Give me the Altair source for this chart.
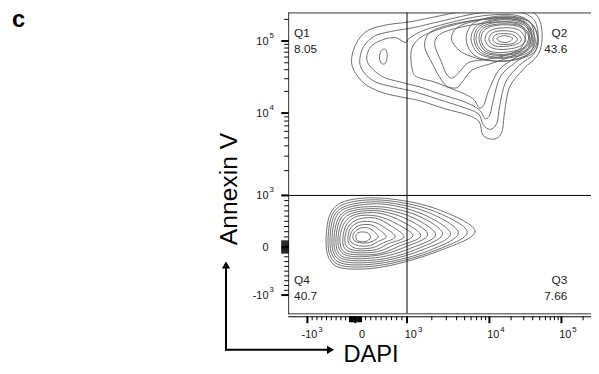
import math
import altair as alt
import pandas as pd

# ---------------- plot geometry (plot area only) ----------------
W, H = 307, 305

# ---------------- axis data (logicle display) ----------------
TICK_VALUES = [-1000, 0, 1000, 10000, 100000]
TICK_BASE = ["-10", "0", "10", "10", "10"]
TICK_EXP = ["3", "", "3", "4", "5"]
LIN_MINOR = [-900, -800, -700, -600, -500, -400, -300, -200,
             200, 300, 400, 500, 600, 700, 800, 900]
ZERO_BLOCK = [-120, -100, -80, -60, -40, -20, 0, 20, 40, 60, 80, 100, 120]
DEC_MINOR = [2000, 3000, 4000, 5000, 6000, 7000, 8000, 9000,
             20000, 30000, 40000, 50000, 60000, 70000, 80000, 90000, 200000]
GATE_VALUE = 1000

# ---------------- quadrant statistics ----------------
QUAD_NAMES = ["Q1", "Q2", "Q3", "Q4"]
QUAD_PCT = ["8.05", "43.6", "7.66", "40.7"]


def chan(v):
    """Logicle-like display channel of a fluorescence value."""
    if 0 <= v <= 1000:
        return 67.5 + v * 0.0525
    if v < 0:
        return 67.5 + v * 0.0485
    if v <= 10000:
        return 120 + math.log10(v / 1000) * 83.5
    return 203.5 + math.log10(v / 10000) * 73


# ---------------- contour lines (display channels: DAPI, Annexin V) ----------------
LOWER_CONTOURS = [
    [(38, 77), (43, 103), (60, 115), (98, 117), (148, 107), (189, 84), (153, 64), (98, 48), (56, 46), (41, 56)],
    [(40, 77), (45, 102), (62, 113), (98, 115), (145, 105), (181, 83), (148, 64), (98, 50), (58, 48), (43, 57)],
    [(42, 77), (47, 101), (64, 111), (98, 113), (141, 103), (172, 82), (142, 64), (98, 52), (60, 50), (45, 58)],
    [(44, 77), (49, 100), (65, 109), (98, 111), (136, 101), (164, 81), (136, 65), (98, 54), (62, 52), (47, 59)],
    [(46, 77), (51, 98), (66, 107), (98, 108), (132, 99), (156, 81), (131, 66), (98, 56), (64, 54), (49, 60)],
    [(48, 77), (53, 97), (67, 105), (96, 106), (127, 97), (149, 80), (125, 67), (96, 58), (65, 56), (51, 61)],
    [(50, 77), (55, 95), (68, 103), (94, 104), (122, 95), (141, 80), (119, 68), (94, 60), (66, 58), (53, 63)],
    [(52, 77), (57, 93), (69, 101), (92, 102), (116, 93), (134, 79), (113, 69), (92, 61), (67, 60), (55, 64)],
    [(55, 77), (59, 91), (70, 99), (90, 99), (110, 91), (126, 79), (107, 70), (90, 63), (68, 62), (57, 66)],
    [(57, 77), (61, 89), (71, 96), (88, 97), (104, 89), (117, 78), (101, 71), (88, 65), (69, 64), (59, 68)],
    [(60, 77), (63, 87), (72, 93), (86, 93), (98, 87), (108, 78), (96, 72), (85, 67), (70, 66), (62, 70)],
    [(62, 77), (65, 85), (73, 90), (84, 90), (92, 85), (99, 78), (90, 73), (82, 69), (71, 69), (64, 72)],
    [(65, 78), (67, 83), (73, 87), (81, 87), (87, 83), (91, 78), (86, 74), (80, 72), (72, 72), (67, 74)],
    [(68, 78), (70, 82), (75, 83), (80, 82), (83, 78), (80, 74), (75, 73), (70, 74)],
]

UPPER_CONTOURS = [
    [(64, 253), (68, 273), (80, 287), (100, 293), (123, 296), (153, 302), (188, 309), (228, 312),
     (251, 303), (257, 283), (253, 263), (238, 248), (224, 230), (219, 205), (216, 184), (208, 177),
     (197, 181), (193, 195), (180, 202), (158, 208), (133, 216), (113, 220), (93, 225), (75, 235)],
    [(72, 255), (76, 271), (88, 282), (108, 287), (126, 290), (156, 297), (193, 305), (228, 307),
     (248, 299), (253, 281), (249, 264), (234, 252), (220, 235), (214, 211), (211, 193), (204, 187),
     (197, 192), (192, 203), (175, 210), (153, 217), (128, 225), (106, 230), (88, 235), (77, 244)],
    [(80, 255), (82, 269), (93, 277), (108, 280), (118, 275), (122, 279), (136, 287), (163, 295),
     (196, 302), (228, 303), (245, 295), (249, 279), (245, 265), (230, 255), (215, 241), (208, 219),
     (204, 202), (199, 198), (193, 207), (178, 215), (153, 223), (133, 230), (113, 235), (94, 241)],
    [(94, 267), (98, 268), (100, 262), (98, 254), (94, 254), (92, 260)],
    [(126, 245), (124, 265), (130, 277), (143, 285), (168, 293), (198, 299), (228, 300), (243, 293),
     (246, 279), (241, 267), (226, 257), (213, 247), (203, 227), (198, 212), (193, 209), (188, 217),
     (178, 223), (163, 229), (148, 235), (133, 239)],
    [(138, 270), (141, 283), (153, 290), (178, 296), (208, 299), (233, 298), (243, 289), (242, 275),
     (233, 265), (218, 258), (203, 253), (186, 247), (176, 235), (170, 229), (160, 231), (153, 240),
     (146, 253)],
    [(148, 273), (153, 283), (168, 289), (193, 294), (218, 296), (236, 292), (240, 281), (235, 269),
     (220, 262), (202, 258), (183, 255), (173, 245), (166, 239), (160, 243), (155, 255)],
    [(165, 279), (172, 291), (195, 298), (222, 301), (244, 296), (252, 282), (247, 266), (225, 257),
     (200, 257), (182, 262), (172, 268)],
    [(180, 278), (188, 295), (216, 302), (243, 297), (253, 278), (246, 263), (218, 256), (190, 261)],
    [(185, 278), (192, 293), (216, 299), (240, 295), (250, 278), (243, 265), (218, 259), (194, 263)],
    [(188, 278), (194, 292), (216, 298), (239, 294), (248, 278), (241, 266), (218, 260), (196, 264)],
    [(190, 278), (196, 291), (217, 296), (238, 293), (247, 278), (240, 267), (218, 262), (198, 265)],
    [(193, 278), (198, 290), (217, 294), (237, 291), (245, 278), (238, 268), (218, 263), (200, 266)],
    [(195, 278), (200, 289), (217, 293), (236, 290), (244, 278), (237, 269), (218, 265), (202, 267)],
    [(199, 278), (204, 287), (218, 290), (233, 288), (240, 278), (234, 271), (218, 268), (205, 270)],
    [(203, 278), (207, 285), (218, 287), (230, 285), (236, 278), (230, 273), (218, 271), (208, 272)],
    [(207, 278), (210, 283), (218, 284), (227, 283), (232, 278), (227, 274), (218, 273), (211, 274)],
    [(211, 279), (214, 281), (219, 282), (224, 281), (227, 279), (224, 276), (219, 275), (214, 276)],
]

# ---------------- tables ----------------
rows = []
for group, contours in (("low", LOWER_CONTOURS), ("up", UPPER_CONTOURS)):
    for i, pts in enumerate(contours):
        for j, (cx, cy) in enumerate(pts):
            rows.append({"cid": f"{group}{i}", "ord": j, "x": cx, "y": cy})
contour_df = pd.DataFrame(rows)

major_df = pd.DataFrame({"ch": [chan(v) for v in TICK_VALUES],
                         "base": TICK_BASE, "exp": TICK_EXP})
minor_df = pd.DataFrame({"ch": [chan(v) for v in LIN_MINOR + DEC_MINOR]})
block_df = pd.DataFrame({"ch": [chan(v) for v in ZERO_BLOCK]})
gate_df = pd.DataFrame({"g": [chan(GATE_VALUE)]})
one = pd.DataFrame({"k": [0]})

xs = alt.Scale(domain=[-0.5, W - 0.5], nice=False, zero=False)
ys = alt.Scale(domain=[0.5, H + 0.5], nice=False, zero=False)
X = lambda f: alt.X(f, scale=xs, axis=None)
Y = lambda f: alt.Y(f, scale=ys, axis=None)

FONT = "Liberation Sans"
LINE = "#5e5e5e"

layers = []

# contours
layers.append(
    alt.Chart(contour_df).mark_line(interpolate="cardinal-closed", clip=True,
                                    color=LINE, strokeWidth=0.9)
    .encode(x=X("x:Q"), y=Y("y:Q"), detail="cid:N", order="ord:Q")
)

# quadrant gates
layers.append(alt.Chart(gate_df).mark_rule(color="black", strokeWidth=1).encode(x=X("g:Q")))
layers.append(alt.Chart(gate_df).mark_rule(color="black", strokeWidth=1).encode(y=Y("g:Q")))

# frame (top, left, bottom)
layers.append(alt.Chart(one).mark_rule(color="#333", strokeWidth=1).encode(
    x=alt.value(0), x2=alt.value(W + 2), y=alt.value(0.5)))
layers.append(alt.Chart(one).mark_rule(color="#333", strokeWidth=1).encode(
    x=alt.value(0.5), y=alt.value(0), y2=alt.value(H + 1)))
layers.append(alt.Chart(one).mark_rule(color="#333", strokeWidth=1).encode(
    x=alt.value(0), x2=alt.value(W + 2), y=alt.value(H + 0.5)))

# x axis line and ticks
layers.append(alt.Chart(one).mark_rule(color="black", strokeWidth=1).encode(
    x=alt.value(0), x2=alt.value(W + 2), y=alt.value(H + 3.5)))
layers.append(alt.Chart(minor_df).mark_rule(color="black", strokeWidth=1).encode(
    x=X("ch:Q"), y=alt.value(H + 3), y2=alt.value(H + 7)))
layers.append(alt.Chart(block_df).mark_rule(color="black", strokeWidth=1.2).encode(
    x=X("ch:Q"), y=alt.value(H + 3), y2=alt.value(H + 9)))
layers.append(alt.Chart(major_df).mark_rule(color="black", strokeWidth=2).encode(
    x=X("ch:Q"), y=alt.value(H + 3), y2=alt.value(H + 10)))

# y axis ticks
layers.append(alt.Chart(minor_df).mark_rule(color="black", strokeWidth=1).encode(
    y=Y("ch:Q"), x=alt.value(-4), x2=alt.value(0.5)))
layers.append(alt.Chart(block_df).mark_rule(color="black", strokeWidth=1.2).encode(
    y=Y("ch:Q"), x=alt.value(-7), x2=alt.value(0.5)))
layers.append(alt.Chart(major_df).mark_rule(color="black", strokeWidth=2).encode(
    y=Y("ch:Q"), x=alt.value(-7), x2=alt.value(0.5)))

# x tick labels
layers.append(alt.Chart(major_df).mark_text(font=FONT, fontSize=11, align="right",
                                            baseline="middle", dx=10, color="#111").encode(
    x=X("ch:Q"), y=alt.value(H + 22.5), text="base:N"))
layers.append(alt.Chart(major_df).mark_text(font=FONT, fontSize=8, align="left",
                                            baseline="middle", dx=11, color="#111").encode(
    x=X("ch:Q"), y=alt.value(H + 16.5), text="exp:N"))

# y tick labels
layers.append(alt.Chart(major_df).mark_text(font=FONT, fontSize=11, align="right",
                                            baseline="middle", dy=1, color="#111").encode(
    y=Y("ch:Q"), x=alt.value(-20), text="base:N"))
layers.append(alt.Chart(major_df).mark_text(font=FONT, fontSize=8, align="left",
                                            baseline="middle", dy=-5, color="#111").encode(
    y=Y("ch:Q"), x=alt.value(-19), text="exp:N"))

# quadrant labels
quad_pos = {"Q1": (6, "left", 21), "Q2": (283, "right", 21),
            "Q3": (283, "right", 271), "Q4": (6, "left", 271)}
for name, pct in zip(QUAD_NAMES, QUAD_PCT):
    qx, qa, qy = quad_pos[name]
    layers.append(alt.Chart(one).mark_text(font=FONT, fontSize=12, align=qa, baseline="middle",
                                           color="#222", text=name).encode(
        x=alt.value(qx), y=alt.value(qy)))
    layers.append(alt.Chart(one).mark_text(font=FONT, fontSize=12, align=qa, baseline="middle",
                                           color="#222", text=pct).encode(
        x=alt.value(qx), y=alt.value(qy + 16)))

# axis titles with arrows
layers.append(alt.Chart(one).mark_text(font=FONT, fontSize=25, angle=270, align="center",
                                       baseline="middle", color="black", text="Annexin V").encode(
    x=alt.value(-60), y=alt.value(179)))
layers.append(alt.Chart(one).mark_text(font=FONT, fontSize=24, align="left",
                                       baseline="middle", color="black", text="DAPI").encode(
    x=alt.value(56), y=alt.value(347)))
layers.append(alt.Chart(one).mark_rule(color="black", strokeWidth=2).encode(
    x=alt.value(-63), y=alt.value(343), y2=alt.value(258)))
layers.append(alt.Chart(one).mark_rule(color="black", strokeWidth=2).encode(
    y=alt.value(342), x=alt.value(-64), x2=alt.value(40)))
layers.append(alt.Chart(one).mark_point(shape="triangle-up", filled=True, size=70,
                                        color="black", opacity=1).encode(
    x=alt.value(-63), y=alt.value(256)))
layers.append(alt.Chart(one).mark_point(shape="triangle-right", filled=True, size=70,
                                        color="black", opacity=1).encode(
    x=alt.value(43), y=alt.value(342)))

# panel letter
layers.append(alt.Chart(one).mark_text(font=FONT, fontSize=24, fontWeight="bold", align="left",
                                       baseline="alphabetic", color="black", text="c").encode(
    x=alt.value(-280), y=alt.value(15)))

chart = alt.layer(*layers).properties(
    width=W, height=H,
    padding={"left": 284, "top": 2, "right": 0, "bottom": 59},
    autosize=alt.AutoSizeParams(type="none"),
).configure_view(stroke=None)

chart.save("out.html", embed_options={"renderer": "svg", "actions": False})
